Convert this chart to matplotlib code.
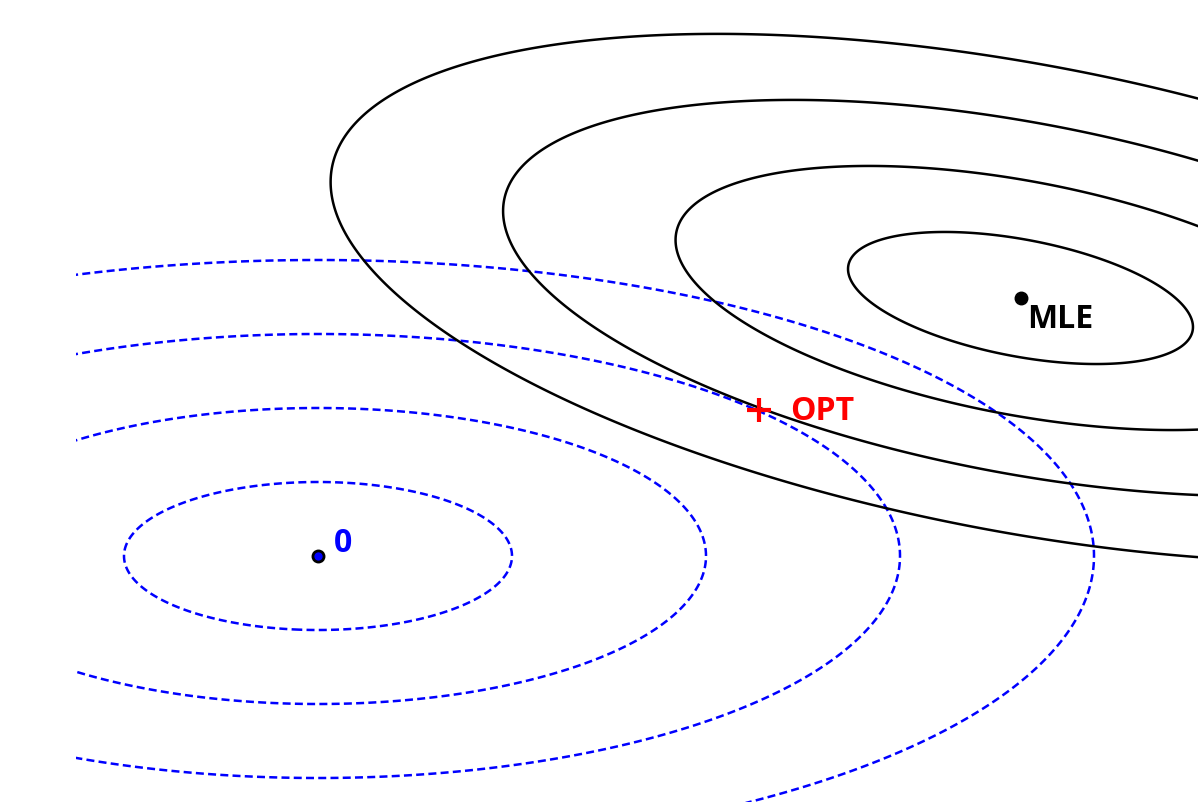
import numpy as np
import matplotlib
matplotlib.use("Agg")
import matplotlib.pyplot as plt

# prior (centred at zero) and likelihood (centred at the MLE)
prior_mean = [0.0, 0.0]
prior_axes = [1.94, 0.74]       # semi-axes of the 1-sigma contour
prior_angle = 0.0

mle = [7.025, 2.58]
lik_axes = [1.752, 0.584]
lik_angle = -10.75             # degrees

opt = [4.41, 1.46]
levels = [1, 2, 3, 4]          # contour radii in sigma units


def sq_dist(X, Y, centre, axes, angle):
    "squared Mahalanobis distance for a rotated ellipse"
    t = np.deg2rad(angle)
    dx = X - centre[0]
    dy = Y - centre[1]
    u = dx * np.cos(t) + dy * np.sin(t)
    v = -dx * np.sin(t) + dy * np.cos(t)
    return (u / axes[0])**2 + (v / axes[1])**2


fig = plt.figure(figsize=(11.98, 8.03), dpi=100)
ax = fig.add_axes([76/1198, 0, 1 - 76/1198, 1])
ax.set_xlim(-2.42, 8.80)
ax.set_ylim(-2.46, 5.57)
ax.axis('off')

x = np.linspace(-2.6, 9.0, 1600)
y = np.linspace(-2.6, 5.8, 1200)
X, Y = np.meshgrid(x, y)

lv = [l**2 for l in levels]
ax.contour(X, Y, sq_dist(X, Y, prior_mean, prior_axes, prior_angle), levels=lv,
           colors='blue', linewidths=1.8, linestyles=[(0, (3.2, 1.7))])
ax.contour(X, Y, sq_dist(X, Y, mle, lik_axes, lik_angle), levels=lv,
           colors='black', linewidths=1.8, linestyles='solid')

ax.plot(prior_mean[0], prior_mean[1], 'o', ms=8, mfc='blue', mec='black', mew=2, zorder=5)
ax.plot(mle[0], mle[1], 'o', ms=9, color='black', zorder=5)
ax.plot(opt[0], opt[1], '+', ms=17, mew=3, color='red', zorder=5)

fnt = dict(family=['Open Sans', 'DejaVu Sans'], fontweight='bold', fontsize=23)
ax.text(prior_mean[0] + 0.16, prior_mean[1] + 0.14, '0', color='blue', va='center', ha='left', **fnt)
ax.text(mle[0] + 0.07, mle[1] - 0.21, 'MLE', color='black', va='center', ha='left', **fnt)
ax.text(opt[0] + 0.31, opt[1], 'OPT', color='red', va='center', ha='left', **fnt)

fig.savefig('out.png', dpi=100)
